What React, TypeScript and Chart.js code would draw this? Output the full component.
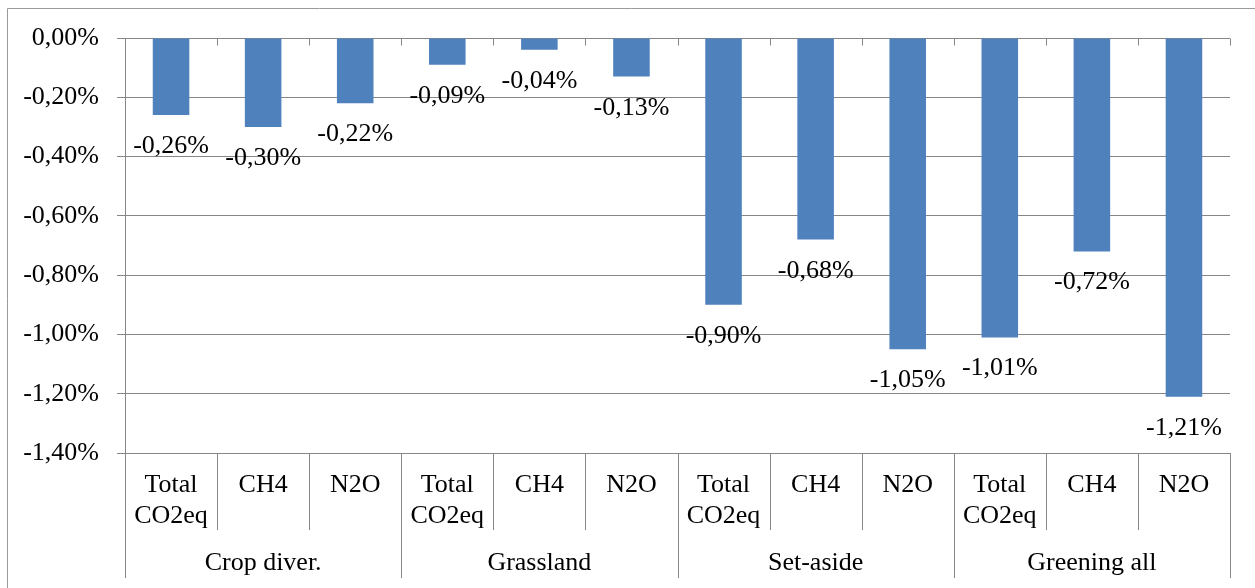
import React, { useEffect, useRef } from "react";
import { Chart, registerables } from "chart.js";

Chart.register(...registerables);

const groups = ["Crop diver.", "Grassland", "Set-aside", "Greening all"];
const subCategories = [["Total", "CO2eq"], ["CH4"], ["N2O"]];
const values = [-0.26, -0.30, -0.22, -0.09, -0.04, -0.13, -0.90, -0.68, -1.05, -1.01, -0.72, -1.21];
const yMin = -1.4;
const yMax = 0;
const yStep = 0.2;

const FONT = "Liberation Serif";
const FONT_SIZE = 26;
const GRID = "#868686";

const fmt = (v: number) => {
  if (Math.abs(v) < 1e-9) return "0,00%";
  return v.toFixed(2).replace(".", ",") + "%";
};

const categoryLabels: string[] = [];
groups.forEach((g) => subCategories.forEach((s) => categoryLabels.push(g + " " + s.join(" "))));

const overlayPlugin = {
  id: "overlay",
  afterDraw(chart: any) {
    const ctx = chart.ctx as CanvasRenderingContext2D;
    const area = chart.chartArea;
    const xs = chart.scales.x;
    const n = categoryLabels.length;
    const catW = (area.right - area.left) / n;
    ctx.save();
    // outer border
    ctx.strokeStyle = "#9a9a9a";
    ctx.lineWidth = 1;
    ctx.beginPath();
    ctx.moveTo(7.5, 600);
    ctx.lineTo(7.5, 8.5);
    ctx.lineTo(1260, 8.5);
    ctx.stroke();

    ctx.strokeStyle = GRID;
    ctx.beginPath();
    const top = Math.round(area.top) + 0.5;
    const bottom = Math.round(area.bottom);
    for (let i = 0; i <= n; i++) {
      const x = Math.round(area.left + i * catW) + 0.5;
      // small tick at zero line
      ctx.moveTo(x, top);
      ctx.lineTo(x, top + 7);
      const isGroup = i % 3 === 0;
      ctx.moveTo(x, bottom);
      ctx.lineTo(x, isGroup ? 578 : 530);
    }
    ctx.stroke();

    // labels
    ctx.fillStyle = "#000";
    ctx.font = `${FONT_SIZE}px "${FONT}"`;
    ctx.textAlign = "center";
    ctx.textBaseline = "alphabetic";
    for (let i = 0; i < n; i++) {
      const cx = xs.getPixelForValue(i);
      const lines = subCategories[i % 3];
      lines.forEach((ln, j) => ctx.fillText(ln, cx, 492 + j * 31));
    }
    groups.forEach((g, gi) => {
      const cx = area.left + (gi * 3 + 1.5) * catW;
      ctx.fillText(g, cx, 570);
    });

    // data labels
    const meta = chart.getDatasetMeta(0);
    meta.data.forEach((el: any, i: number) => {
      ctx.fillText(fmt(values[i]), el.x, el.y + 38);
    });
    ctx.restore();
  },
};

export default function App() {
  const ref = useRef<HTMLCanvasElement | null>(null);
  useEffect(() => {
    if (!ref.current) return;
    const chart = new Chart(ref.current, {
      type: "bar",
      data: {
        labels: categoryLabels,
        datasets: [
          {
            data: values,
            backgroundColor: "#4F81BD",
            borderWidth: 0,
            barPercentage: 0.397,
            categoryPercentage: 1,
          },
        ],
      },
      options: {
        responsive: false,
        animation: false,
        layout: { padding: { left: 0, top: 38, right: 25, bottom: 135 } },
        plugins: { legend: { display: false }, tooltip: { enabled: false } },
        scales: {
          x: { display: false },
          y: {
            min: yMin,
            max: yMax,
            afterFit: (s: any) => {
              s.width = 125;
            },
            ticks: {
              stepSize: yStep,
              color: "#000",
              padding: 18,
              font: { family: FONT, size: FONT_SIZE },
              callback: (v: any) => fmt(Number(v)),
            },
            grid: { color: GRID, lineWidth: 1, tickLength: 8, drawTicks: true },
            border: { display: true, color: GRID, width: 1 },
          },
        },
      },
      plugins: [overlayPlugin],
    });
    return () => chart.destroy();
  }, []);
  return (
    <div style={{ position: "absolute", left: 0, top: 0, width: 1255, height: 588, background: "#fff" }}>
      <canvas ref={ref} width={1255} height={588} />
    </div>
  );
}
